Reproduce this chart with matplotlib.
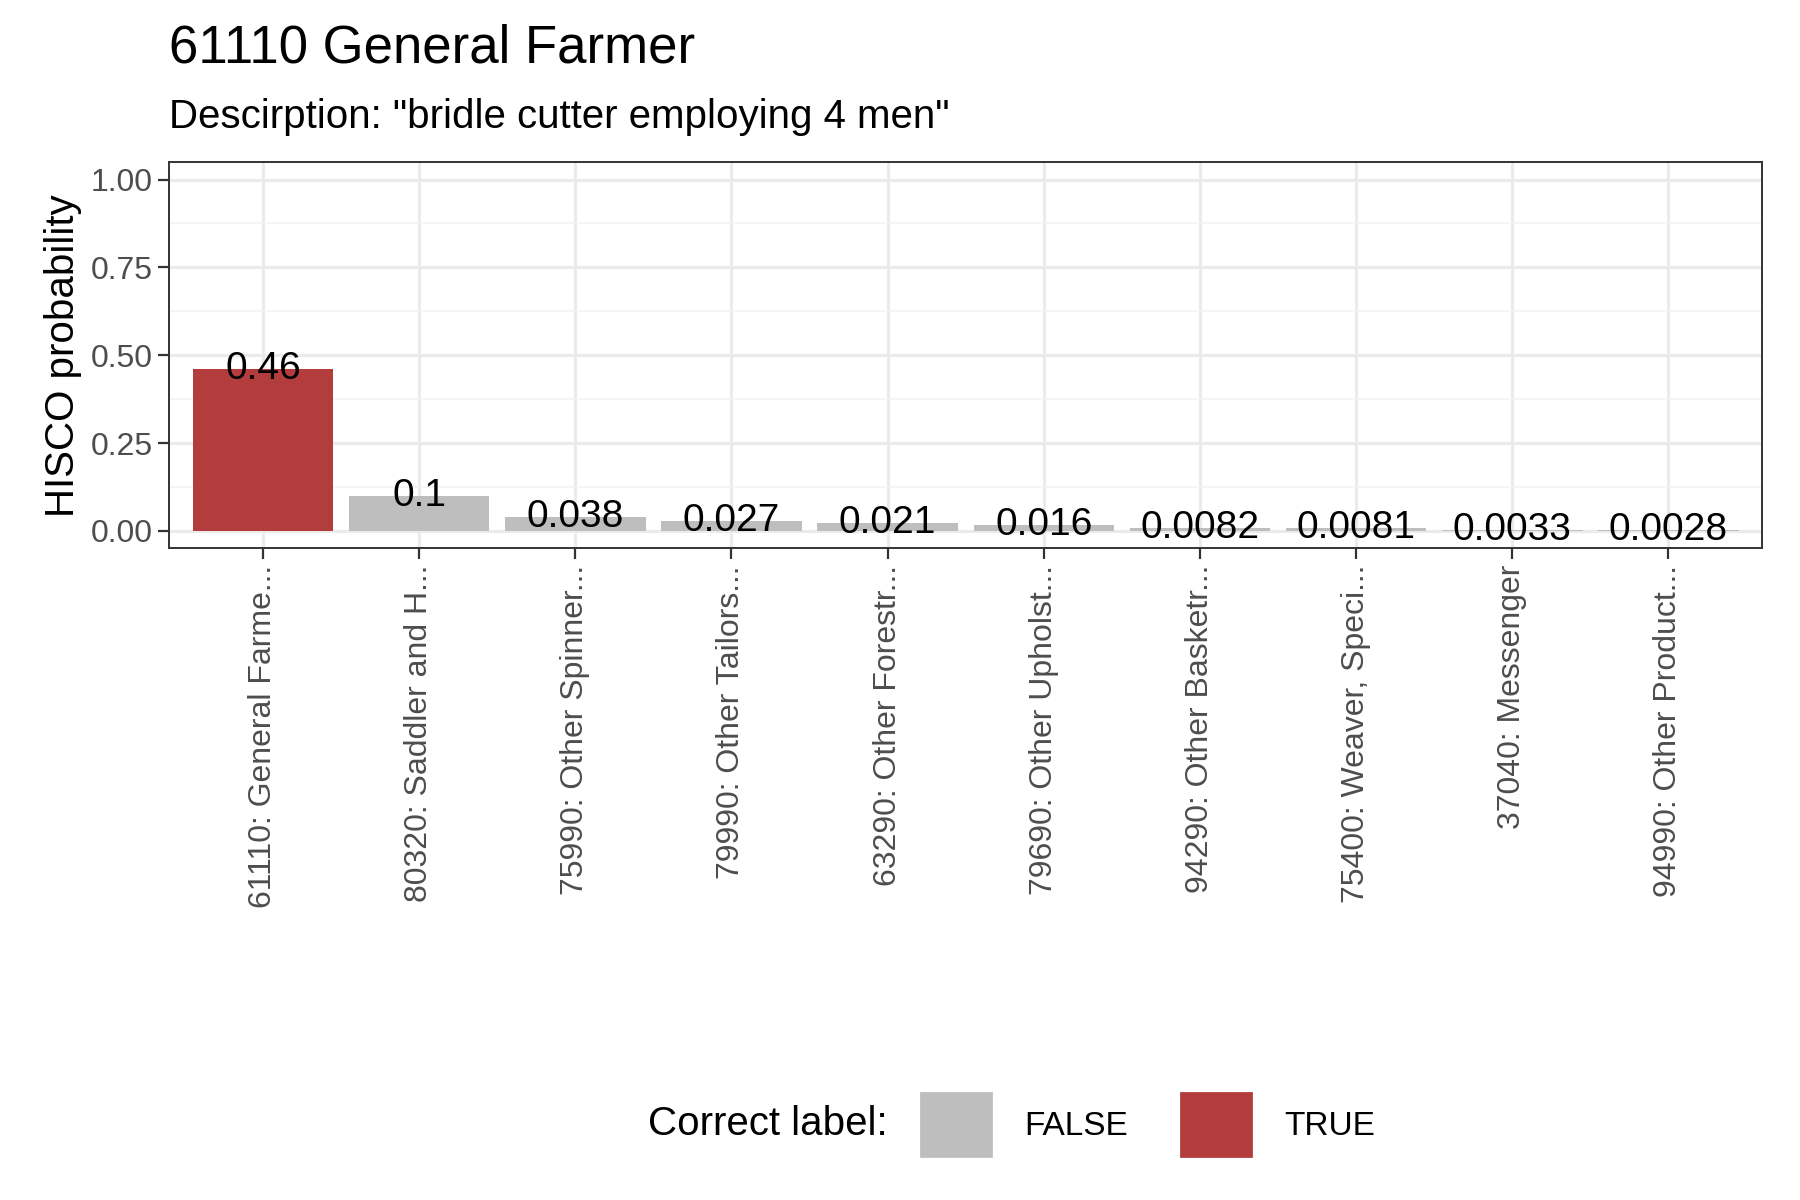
import numpy as np
import matplotlib.pyplot as plt
from matplotlib.patches import Patch
from matplotlib.ticker import MultipleLocator

plt.rcParams['font.family'] = ['Liberation Sans', 'DejaVu Sans']

labels = ["61110: General Farme...", "80320: Saddler and H...", "75990: Other Spinner...",
          "79990: Other Tailors...", "63290: Other Forestr...", "79690: Other Upholst...",
          "94290: Other Basketr...", "75400: Weaver, Speci...", "37040: Messenger",
          "94990: Other Product..."]
probs = [0.46, 0.1, 0.038, 0.027, 0.021, 0.016, 0.0082, 0.0081, 0.0033, 0.0028]
prob_text = ["0.46", "0.1", "0.038", "0.027", "0.021", "0.016", "0.0082", "0.0081", "0.0033", "0.0028"]
correct = [True, False, False, False, False, False, False, False, False, False]

red = '#B33D3D'
grey = '#BEBEBE'

fig = plt.figure(figsize=(9, 6), dpi=200)
ax = fig.add_axes([0.094, 0.543, 0.885, 0.322])
x = np.arange(len(probs))
cols = [red if c else grey for c in correct]
ax.bar(x, probs, width=0.9, color=cols, zorder=2)
for xi, p, t in zip(x, probs, prob_text):
    ax.text(xi, p, t, ha='center', va='center', fontsize=14, zorder=3)

ax.set_xlim(-0.6, len(probs) - 0.4)
ax.set_ylim(-0.05, 1.05)
ax.yaxis.set_minor_locator(MultipleLocator(0.125))
ax.set_yticks([0, 0.25, 0.5, 0.75, 1.0])
ax.set_yticklabels(["0.00", "0.25", "0.50", "0.75", "1.00"])
ax.set_xticks(x)
ax.set_xticklabels(labels, rotation=90, va='top', ha='center')
ax.grid(which='major', color='#EBEBEB', linewidth=1.1, zorder=0)
ax.grid(which='minor', axis='y', color='#F3F3F3', linewidth=0.6, zorder=0)
ax.set_axisbelow(True)
ax.tick_params(which='minor', length=0)
ax.tick_params(which='major', length=4, pad=2, color='#333333', labelcolor='#4D4D4D', labelsize=11.5)
for s in ax.spines.values():
    s.set_color('#333333')
    s.set_linewidth(0.7)
ax.set_ylabel("HISCO probability", fontsize=14.5, labelpad=3)

fig.text(0.094, 0.948, "61110 General Farmer", fontsize=19)
fig.text(0.094, 0.893, 'Descirption: "bridle cutter employing 4 men"', fontsize=14.5)

handles = [Patch(color=grey, label='FALSE'), Patch(color=red, label='TRUE')]
fig.text(0.493, 0.063, "Correct label:", fontsize=14.5, ha='right', va='center')
fig.legend(handles=handles, loc='center left', bbox_to_anchor=(0.495, 0.063), ncol=2,
           frameon=False, fontsize=12, handlelength=2.1, handleheight=2.5,
           columnspacing=1.6, handletextpad=1.0)

fig.savefig('out.png')
